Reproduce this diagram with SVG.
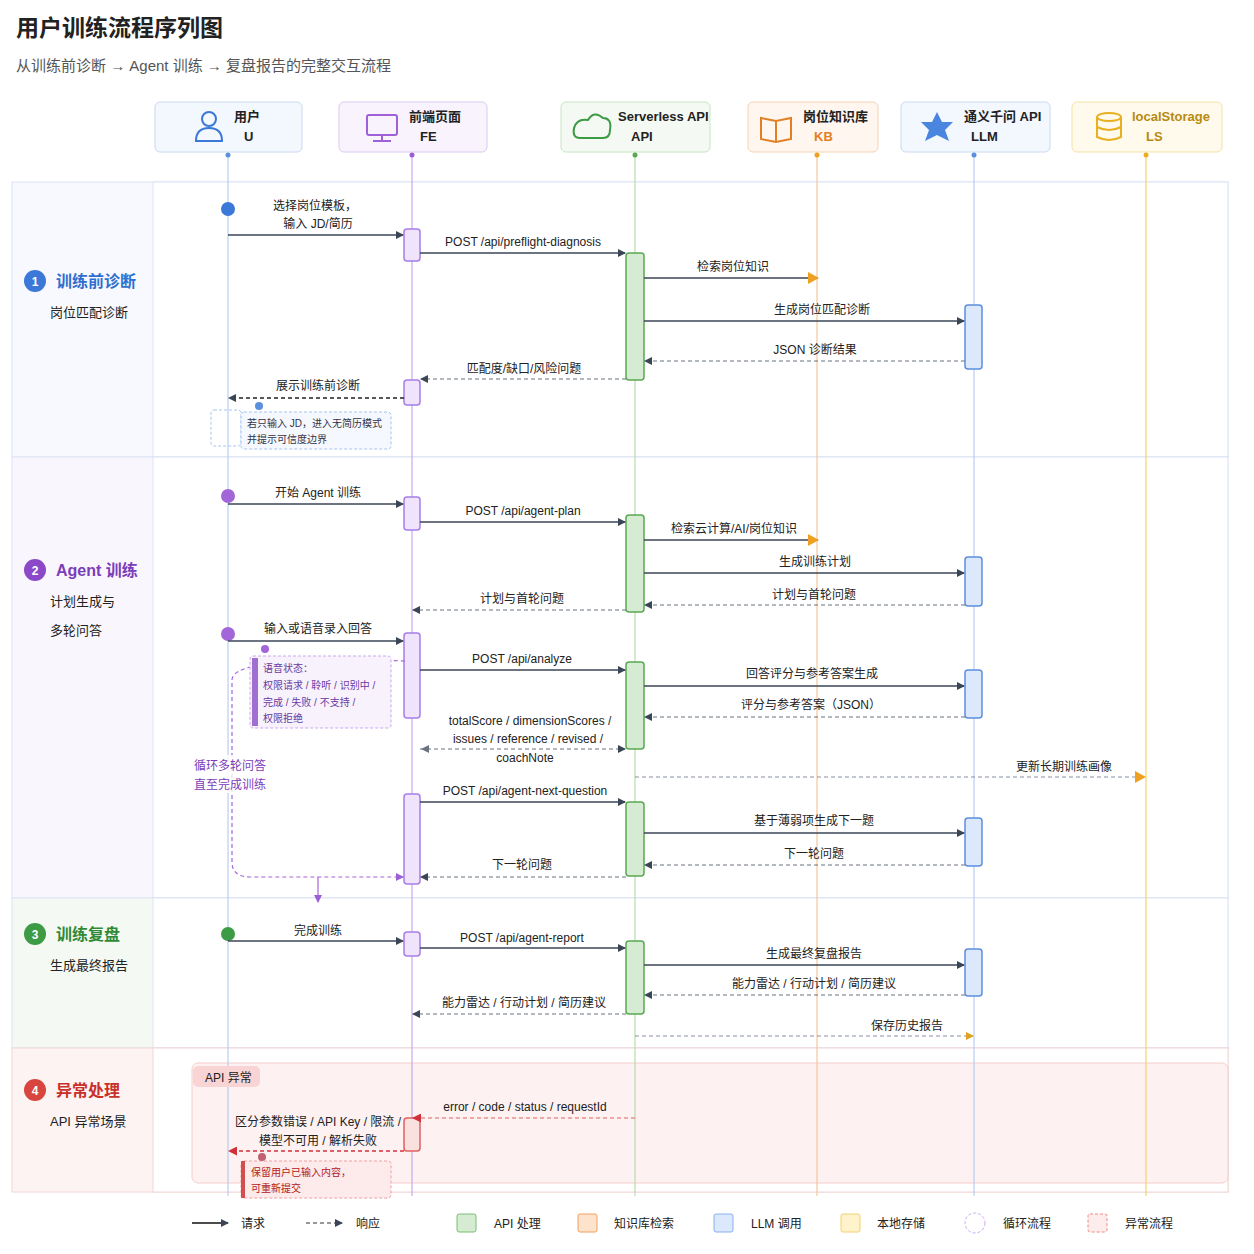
<svg xmlns="http://www.w3.org/2000/svg" width="1254" height="1254" viewBox="0 0 1254 1254">
<style>
text{font-family:"Liberation Sans","Noto Sans CJK SC",sans-serif;fill:#222;}
.lbl{font-size:12px;text-anchor:middle;}
.hd{font-size:13px;font-weight:bold;}
.req{stroke:#3a4656;stroke-width:1.3;fill:none;marker-end:url(#ar);}
.rsp{stroke:#6a7380;stroke-width:1.1;fill:none;stroke-dasharray:4 3;marker-end:url(#ar);}
.fe{fill:#efe4fb;stroke:#a77de8;stroke-width:1.5;}
.api{fill:#d6ecd2;stroke:#5aa851;stroke-width:1.5;}
.llm{fill:#dce8fb;stroke:#5b8fe0;stroke-width:1.5;}
.life{stroke-width:1.2;}
.sec{font-size:16px;font-weight:bold;}
.sub{font-size:13px;}
.note{font-size:10px;}
</style>
<defs>
<marker id="ar" markerWidth="8" markerHeight="8" refX="7" refY="4" orient="auto" markerUnits="userSpaceOnUse"><path d="M0,0L8,4L0,8z" fill="#3a4656"/></marker>
<marker id="arO" markerWidth="12" markerHeight="12" refX="10" refY="6" orient="auto" markerUnits="userSpaceOnUse"><path d="M0,0L11,6L0,12z" fill="#f0a020"/></marker>
<marker id="arP" markerWidth="8" markerHeight="8" refX="7" refY="4" orient="auto" markerUnits="userSpaceOnUse"><path d="M0,0L8,4L0,8z" fill="#9a5fd6"/></marker>
<marker id="arR" markerWidth="9" markerHeight="9" refX="8" refY="4.5" orient="auto" markerUnits="userSpaceOnUse"><path d="M0,0L9,4.5L0,9z" fill="#d0303a"/></marker>
<marker id="arY" markerWidth="8" markerHeight="8" refX="7" refY="4" orient="auto" markerUnits="userSpaceOnUse"><path d="M0,0L8,4L0,8z" fill="#e0a020"/></marker>
</defs>
<rect width="1254" height="1254" fill="#fff"/>
<text x="16" y="36" style="font-size:23px;font-weight:bold">用户训练流程序列图</text>
<text x="16" y="71" style="font-size:15px;fill:#555">从训练前诊断 → Agent 训练 → 复盘报告的完整交互流程</text>

<g id="sections">
<rect x="12" y="182" width="1216" height="275" fill="#f7f9fe" stroke="#dbe4f5"/>
<rect x="153" y="182" width="1075" height="275" fill="#fff" stroke="#dbe4f5"/>
<rect x="12" y="457" width="1216" height="441" fill="#f9f6fd" stroke="#dbe4f5"/>
<rect x="153" y="457" width="1075" height="441" fill="#fff" stroke="#dbe4f5"/>
<rect x="12" y="898" width="1216" height="150" fill="#f4f9f3" stroke="#dbe4f5"/>
<rect x="153" y="898" width="1075" height="150" fill="#fff" stroke="#dbe4f5"/>
<rect x="12" y="1048" width="1216" height="144" fill="#fdf3f3" stroke="#f2d6d6"/>
<rect x="153" y="1048" width="1075" height="144" fill="#fff" stroke="#f2d6d6"/>
<rect x="192" y="1063" width="1036" height="120" rx="6" fill="#fdf1f1" stroke="#f6cccc"/>
<circle cx="35" cy="281" r="11" fill="#3b78d8"/><text x="35" y="286" style="font-size:12px;fill:#fff;text-anchor:middle;font-weight:bold">1</text>
<text x="56" y="287" class="sec" style="fill:#2f6fd0">训练前诊断</text>
<text x="50" y="317" class="sub">岗位匹配诊断</text>
<circle cx="35" cy="570" r="11" fill="#8b48c8"/><text x="35" y="575" style="font-size:12px;fill:#fff;text-anchor:middle;font-weight:bold">2</text>
<text x="56" y="576" class="sec" style="fill:#7b3db8">Agent 训练</text>
<text x="50" y="606" class="sub">计划生成与</text>
<text x="50" y="635" class="sub">多轮问答</text>
<circle cx="35" cy="934" r="11" fill="#3d9a45"/><text x="35" y="939" style="font-size:12px;fill:#fff;text-anchor:middle;font-weight:bold">3</text>
<text x="56" y="940" class="sec" style="fill:#2f8a38">训练复盘</text>
<text x="50" y="970" class="sub">生成最终报告</text>
<circle cx="35" cy="1090" r="11" fill="#d8453f"/><text x="35" y="1095" style="font-size:12px;fill:#fff;text-anchor:middle;font-weight:bold">4</text>
<text x="56" y="1096" class="sec" style="fill:#c8302a">异常处理</text>
<text x="50" y="1126" class="sub">API 异常场景</text>
</g>

<g id="lifelines">
<line x1="228" y1="153" x2="228" y2="1196" stroke="#b8cdf0" class="life"/>
<line x1="412" y1="153" x2="412" y2="1196" stroke="#c9a8f0" class="life"/>
<line x1="635" y1="153" x2="635" y2="1196" stroke="#b6dcb0" class="life"/>
<line x1="817" y1="153" x2="817" y2="1196" stroke="#f6c79a" class="life"/>
<line x1="974" y1="153" x2="974" y2="1196" stroke="#b8cdf0" class="life"/>
<line x1="1146" y1="153" x2="1146" y2="1196" stroke="#f5d36a" class="life"/>
</g>

<g id="U"><rect x="155" y="102" width="147" height="50" rx="5" fill="#f3f7fe" stroke="#c9d9f3"/>
<circle cx="209" cy="119" r="7" fill="none" stroke="#3b78d8" stroke-width="2"/><path d="M196,141 Q196,128 209,128 Q222,128 222,141 Z" fill="none" stroke="#3b78d8" stroke-width="2"/>
<text x="234" y="121" class="hd">用户</text><text x="244" y="141" class="hd">U</text><circle cx="228" cy="155" r="2.5" fill="#5b8fe0"/></g>
<g id="FE"><rect x="339" y="102" width="148" height="50" rx="5" fill="#f8f3fd" stroke="#dcc9f3"/>
<rect x="367" y="115" width="30" height="20" rx="2" fill="none" stroke="#a060d8" stroke-width="2"/><line x1="382" y1="135" x2="382" y2="141" stroke="#a060d8" stroke-width="2"/><line x1="373" y1="141" x2="391" y2="141" stroke="#a060d8" stroke-width="2"/>
<text x="409" y="121" class="hd">前端页面</text><text x="420" y="141" class="hd">FE</text><circle cx="412" cy="155" r="2.5" fill="#9a5fd6"/></g>
<g id="API"><rect x="561" y="102" width="149" height="50" rx="5" fill="#f4faf3" stroke="#c8e3c4"/>
<path d="M580,138 Q572,138 574,128 Q577,118 588,120 Q594,110 603,118 Q612,118 610,130 Q610,138 603,138 Z" fill="none" stroke="#3d9a45" stroke-width="2"/>
<text x="618" y="121" class="hd">Serverless API</text><text x="631" y="141" class="hd">API</text><circle cx="635" cy="155" r="2.5" fill="#5aa851"/></g>
<g id="KB"><rect x="748" y="102" width="130" height="50" rx="5" fill="#fef6ef" stroke="#f5d3b3"/>
<path d="M761,118 L776,121 L791,118 L791,139 L776,142 L761,139 Z M776,121 L776,142" fill="none" stroke="#e27f23" stroke-width="2"/>
<text x="803" y="121" class="hd">岗位知识库</text><text x="814" y="141" class="hd" style="fill:#e27f23">KB</text><circle cx="817" cy="155" r="2.5" fill="#f0a020"/></g>
<g id="LLM"><rect x="901" y="102" width="149" height="50" rx="5" fill="#f3f7fe" stroke="#c9d9f3"/>
<path d="M937,112 L942,122 L953,122 L945,130 L949,141 L937,135 L925,141 L929,130 L921,122 L932,122 Z" fill="#4a86e0"/>
<text x="964" y="121" class="hd">通义千问 API</text><text x="971" y="141" class="hd">LLM</text><circle cx="974" cy="155" r="2.5" fill="#5b8fe0"/></g>
<g id="LS"><rect x="1072" y="102" width="150" height="50" rx="5" fill="#fffaec" stroke="#f6e1a5"/>
<ellipse cx="1109" cy="117" rx="12" ry="4" fill="none" stroke="#e8b020" stroke-width="2"/><path d="M1097,117 L1097,137 Q1109,143 1121,137 L1121,117 M1097,127 Q1109,133 1121,127" fill="none" stroke="#e8b020" stroke-width="2"/>
<text x="1132" y="121" class="hd" style="fill:#b88a10">localStorage</text><text x="1146" y="141" class="hd" style="fill:#b88a10">LS</text><circle cx="1146" cy="155" r="2.5" fill="#e8b020"/></g>

<g id="activations">
<rect x="404" y="229" width="16" height="32" rx="3" class="fe"/>
<rect x="626" y="253" width="18" height="127" rx="3" class="api"/>
<rect x="965" y="305" width="17" height="64" rx="3" class="llm"/>
<rect x="404" y="380" width="16" height="25" rx="3" class="fe"/>
<rect x="404" y="497" width="16" height="33" rx="3" class="fe"/>
<rect x="626" y="515" width="18" height="97" rx="3" class="api"/>
<rect x="965" y="557" width="17" height="49" rx="3" class="llm"/>
<rect x="404" y="633" width="16" height="85" rx="3" class="fe"/>
<rect x="626" y="662" width="18" height="87" rx="3" class="api"/>
<rect x="965" y="670" width="17" height="48" rx="3" class="llm"/>
<rect x="404" y="794" width="16" height="90" rx="3" class="fe"/>
<rect x="626" y="802" width="18" height="74" rx="3" class="api"/>
<rect x="965" y="818" width="17" height="48" rx="3" class="llm"/>
<rect x="404" y="932" width="16" height="24" rx="3" class="fe"/>
<rect x="626" y="941" width="18" height="73" rx="3" class="api"/>
<rect x="965" y="949" width="17" height="47" rx="3" class="llm"/>
<rect x="404" y="1118" width="16" height="33" rx="3" fill="#fbe0e0" stroke="#e06060" stroke-width="1.5"/>
</g>

<g id="starts">
<circle cx="228" cy="209" r="7" fill="#3b78d8"/>
<circle cx="228" cy="496" r="7" fill="#a366d8"/>
<circle cx="228" cy="634" r="7" fill="#a366d8"/>
<circle cx="228" cy="934" r="7" fill="#3d9a45"/>
</g>

<g id="connectors">
<text x="315" y="210" class="lbl">选择岗位模板，</text><text x="318" y="228" class="lbl">输入 JD/简历</text>
<line x1="228" y1="235" x2="403" y2="235" class="req"/>
<text x="523" y="246" class="lbl">POST /api/preflight-diagnosis</text>
<line x1="420" y1="253" x2="625" y2="253" class="req"/>
<text x="733" y="271" class="lbl">检索岗位知识</text>
<line x1="644" y1="278" x2="818" y2="278" stroke="#3a4656" stroke-width="1.3" marker-end="url(#arO)"/>
<text x="822" y="314" class="lbl">生成岗位匹配诊断</text>
<line x1="644" y1="321" x2="964" y2="321" class="req"/>
<text x="815" y="354" class="lbl">JSON 诊断结果</text>
<line x1="965" y1="361" x2="645" y2="361" class="rsp"/>
<text x="524" y="373" class="lbl">匹配度/缺口/风险问题</text>
<line x1="626" y1="379" x2="421" y2="379" class="rsp" marker-end="url(#arP)"/>
<text x="318" y="390" class="lbl">展示训练前诊断</text>
<line x1="404" y1="398" x2="229" y2="398" stroke="#222" stroke-width="1.5" stroke-dasharray="4 3" marker-end="url(#ar)"/>
<rect x="211" y="410" width="30" height="36" rx="3" fill="none" stroke="#a8c4ee" stroke-dasharray="3 2"/>
<rect x="241" y="412" width="150" height="37" rx="3" fill="#f5f8fe" stroke="#a8c4ee" stroke-dasharray="3 2"/>
<circle cx="259" cy="406" r="4" fill="#5b8fe0"/>
<text x="247" y="427" class="note" style="fill:#334">若只输入 JD，进入无简历模式</text>
<text x="247" y="443" class="note" style="fill:#334">并提示可信度边界</text>

<text x="318" y="497" class="lbl">开始 Agent 训练</text>
<line x1="228" y1="504" x2="403" y2="504" class="req"/>
<text x="523" y="515" class="lbl">POST /api/agent-plan</text>
<line x1="420" y1="522" x2="625" y2="522" class="req"/>
<text x="734" y="533" class="lbl">检索云计算/AI/岗位知识</text>
<line x1="644" y1="540" x2="818" y2="540" stroke="#3a4656" stroke-width="1.3" marker-end="url(#arO)"/>
<text x="815" y="566" class="lbl">生成训练计划</text>
<line x1="644" y1="573" x2="964" y2="573" class="req"/>
<text x="814" y="599" class="lbl">计划与首轮问题</text>
<line x1="965" y1="605" x2="645" y2="605" class="rsp"/>
<text x="522" y="603" class="lbl">计划与首轮问题</text>
<line x1="626" y1="610" x2="413" y2="610" class="rsp"/>
<text x="318" y="633" class="lbl">输入或语音录入回答</text>
<line x1="228" y1="641" x2="403" y2="641" class="req"/>
<text x="522" y="663" class="lbl">POST /api/analyze</text>
<line x1="420" y1="670" x2="625" y2="670" class="req"/>
<text x="812" y="678" class="lbl">回答评分与参考答案生成</text>
<line x1="644" y1="686" x2="964" y2="686" class="req"/>
<text x="811" y="709" class="lbl">评分与参考答案（JSON）</text>
<line x1="965" y1="717" x2="645" y2="717" class="rsp"/>
<text x="530" y="725" class="lbl">totalScore / dimensionScores /</text>
<text x="528" y="743" class="lbl">issues / reference / revised /</text>
<text x="525" y="762" class="lbl">coachNote</text>
<line x1="420" y1="749" x2="625" y2="749" class="rsp"/>
<path d="M421,749 l8,-4 v8 z" fill="#6a7380"/>
<text x="1064" y="771" class="lbl">更新长期训练画像</text>
<line x1="635" y1="777" x2="1145" y2="777" stroke="#8890a0" stroke-width="1" stroke-dasharray="4 3" marker-end="url(#arO)"/>
<text x="525" y="795" class="lbl">POST /api/agent-next-question</text>
<line x1="420" y1="802" x2="625" y2="802" class="req"/>
<text x="814" y="825" class="lbl">基于薄弱项生成下一题</text>
<line x1="644" y1="833" x2="964" y2="833" class="req"/>
<text x="814" y="858" class="lbl">下一轮问题</text>
<line x1="965" y1="865" x2="645" y2="865" class="rsp"/>
<text x="522" y="869" class="lbl">下一轮问题</text>
<line x1="626" y1="877" x2="421" y2="877" class="rsp"/>
<path d="M405,661 Q232,655 232,680 L232,862 Q232,877 250,877 L403,877" fill="none" stroke="#a366d8" stroke-width="1.2" stroke-dasharray="4 3" marker-end="url(#arP)"/>
<line x1="318" y1="877" x2="318" y2="902" stroke="#a366d8" stroke-width="1.2" marker-end="url(#arP)"/>
<rect x="250" y="656" width="141" height="72" rx="3" fill="#f8f2fd" stroke="#c9a8f0" stroke-dasharray="3 2"/>
<rect x="252" y="658" width="6" height="68" fill="#a070d0"/>
<circle cx="265" cy="649" r="4" fill="#a366d8"/>
<text x="263" y="672" class="note" style="fill:#6a3aa0">语音状态：</text>
<text x="263" y="689" class="note" style="fill:#6a3aa0">权限请求 / 聆听 / 识别中 /</text>
<text x="263" y="706" class="note" style="fill:#6a3aa0">完成 / 失败 / 不支持 /</text>
<text x="263" y="722" class="note" style="fill:#6a3aa0">权限拒绝</text>
<rect x="190" y="755" width="84" height="38" fill="#fff" opacity="0.8"/>
<text x="194" y="770" style="font-size:12px;fill:#7b3db8">循环多轮问答</text>
<text x="194" y="789" style="font-size:12px;fill:#7b3db8">直至完成训练</text>

<text x="318" y="935" class="lbl">完成训练</text>
<line x1="228" y1="941" x2="403" y2="941" class="req"/>
<text x="522" y="942" class="lbl">POST /api/agent-report</text>
<line x1="420" y1="948" x2="625" y2="948" class="req"/>
<text x="814" y="958" class="lbl">生成最终复盘报告</text>
<line x1="644" y1="965" x2="964" y2="965" class="req"/>
<text x="814" y="988" class="lbl">能力雷达 / 行动计划 / 简历建议</text>
<line x1="965" y1="995" x2="645" y2="995" class="rsp"/>
<text x="524" y="1007" class="lbl">能力雷达 / 行动计划 / 简历建议</text>
<line x1="626" y1="1014" x2="413" y2="1014" class="rsp"/>
<text x="907" y="1030" class="lbl">保存历史报告</text>
<line x1="635" y1="1036" x2="973" y2="1036" stroke="#8890a0" stroke-width="1" stroke-dasharray="4 3" marker-end="url(#arY)"/>

<rect x="193" y="1066" width="67" height="21" rx="5" fill="#f8d4d4"/>
<text x="205" y="1082" style="font-size:12px">API 异常</text>
<text x="525" y="1111" class="lbl">error / code / status / requestId</text>
<line x1="635" y1="1118" x2="413" y2="1118" stroke="#e06060" stroke-width="1.2" stroke-dasharray="4 3" marker-end="url(#arR)"/>
<text x="318" y="1126" class="lbl">区分参数错误 / API Key / 限流 /</text>
<text x="318" y="1145" class="lbl">模型不可用 / 解析失败</text>
<line x1="404" y1="1151" x2="229" y2="1151" stroke="#d0303a" stroke-width="1.3" stroke-dasharray="4 3" marker-end="url(#arR)"/>
<rect x="241" y="1161" width="150" height="37" rx="3" fill="#fdeaea" stroke="#f0a0a0" stroke-dasharray="3 2"/>
<rect x="241" y="1161" width="4" height="37" fill="#d05050"/>
<circle cx="262" cy="1157" r="4" fill="#c06070"/>
<text x="251" y="1176" class="note" style="fill:#b02020">保留用户已输入内容，</text>
<text x="251" y="1192" class="note" style="fill:#b02020">可重新提交</text>
</g>

<g id="legend">
<line x1="192" y1="1223" x2="228" y2="1223" stroke="#111" stroke-width="1.5" marker-end="url(#ar)"/>
<text x="241" y="1228" style="font-size:12px">请求</text>
<line x1="306" y1="1223" x2="342" y2="1223" stroke="#333" stroke-width="1.2" stroke-dasharray="4 3" marker-end="url(#ar)"/>
<text x="356" y="1228" style="font-size:12px">响应</text>
<rect x="457" y="1214" width="19" height="18" rx="2" fill="#d6ecd2" stroke="#7bbf72"/><text x="494" y="1228" style="font-size:12px">API 处理</text>
<rect x="578" y="1214" width="19" height="18" rx="2" fill="#fde3cc" stroke="#f0a060"/><text x="614" y="1228" style="font-size:12px">知识库检索</text>
<rect x="714" y="1214" width="19" height="18" rx="2" fill="#dce8fb" stroke="#8ab0ea"/><text x="751" y="1228" style="font-size:12px">LLM 调用</text>
<rect x="841" y="1214" width="19" height="18" rx="2" fill="#fff3cc" stroke="#f3d070"/><text x="877" y="1228" style="font-size:12px">本地存储</text>
<circle cx="975" cy="1223" r="10" fill="none" stroke="#c9a8f0" stroke-dasharray="3 2"/><text x="1003" y="1228" style="font-size:12px">循环流程</text>
<rect x="1088" y="1214" width="19" height="18" rx="2" fill="#fdecec" stroke="#e88" stroke-dasharray="3 2"/><text x="1125" y="1228" style="font-size:12px">异常流程</text>
</g>
</svg>
